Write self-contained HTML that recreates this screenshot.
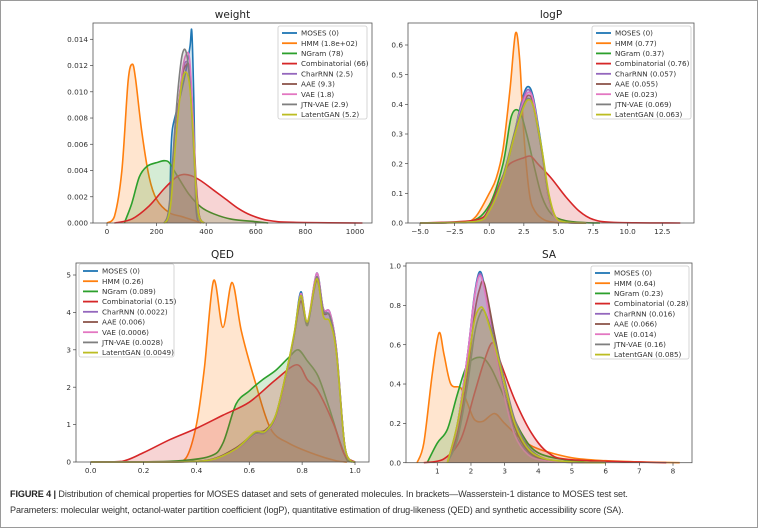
<!DOCTYPE html>
<html><head><meta charset="utf-8"><style>
body{margin:0;background:#fff;}
svg{display:block;font-family:"DejaVu Sans","Liberation Sans",sans-serif;}
.cap{position:absolute;left:10px;font-family:"Liberation Sans",sans-serif;font-size:9.6px;color:#333;white-space:nowrap;letter-spacing:-0.1px;transform:scaleX(0.945);transform-origin:0 0}
</style></head><body>
<div style="position:relative;width:758px;height:528px;overflow:hidden">
<svg id="fig" width="758" height="528" viewBox="0 0 758 528"></svg>
<div class="cap" style="top:489px"><b style="color:#222">FIGURE 4 |</b> Distribution of chemical properties for MOSES dataset and sets of generated molecules. In brackets—Wasserstein-1 distance to MOSES test set.</div>
<div class="cap" style="top:505px">Parameters: molecular weight, octanol-water partition coefficient (logP), quantitative estimation of drug-likeness (QED) and synthetic accessibility score (SA).</div>
</div>
<script>
const seriesNames = ["MOSES","HMM","NGram","Combinatorial","CharRNN","AAE","VAE","JTN-VAE","LatentGAN"];
const seriesColors = ["#1f77b4","#ff7f0e","#2ca02c","#d62728","#9467bd","#8c564b","#e377c2","#7f7f7f","#bcbd22"];

// ---- weight ----
const weightDist = ["0","1.8e+02","78","66","2.5","9.3","1.8","2.9","5.2"];
const weightTicksX = [0,200,400,600,800,1000];
const weightTicksY = [0,0.002,0.004,0.006,0.008,0.010,0.012,0.014];
const weightNarrowX = [230,245,258,272,288,303,318,333,347,360,373,392];
const weightX_MOSES = [240,252,258,264,280,300,320,335,342,350,358,370];
const weightY_MOSES = [0,0.001,0.0055,0.0072,0.0085,0.0100,0.0118,0.0135,0.0146,0.0095,0.0015,0];
const weightX_HMM = [0,30,60,85,102,115,140,170,200,250,300,350,380];
const weightY_HMM = [0,0.0005,0.004,0.0108,0.0121,0.011,0.007,0.0035,0.0018,0.0008,0.0005,0.0002,0];
const weightX_NGram = [70,100,130,160,200,245,280,330,380,430,500,600,650];
const weightY_NGram = [0,0.0015,0.0035,0.0043,0.0046,0.0047,0.0037,0.0022,0.0012,0.0007,0.0003,0.0001,0];
const weightX_Comb = [30,100,170,230,280,310,340,380,430,480,530,580,650,750,1030];
const weightY_Comb = [0,0.0003,0.0013,0.0026,0.0035,0.0037,0.0036,0.0032,0.0025,0.0018,0.0011,0.0006,0.0002,0.00005,0];
const weightY_CharRNN = [0,0.0004,0.002,0.0055,0.0088,0.0112,0.0123,0.0115,0.0075,0.0025,0.0004,0];
const weightY_AAE = [0,0.0005,0.0022,0.0058,0.009,0.0112,0.012,0.0118,0.008,0.003,0.0005,0];
const weightY_VAE = [0,0.0004,0.002,0.0055,0.0088,0.0115,0.0128,0.0125,0.008,0.0025,0.0004,0];
const weightY_JTN = [0,0.0006,0.0028,0.0068,0.0105,0.0128,0.0131,0.011,0.0065,0.002,0.0003,0];
const weightY_LatentGAN = [0,0.0003,0.0016,0.005,0.0085,0.0108,0.0115,0.0105,0.007,0.0022,0.0004,0];

// ---- logP ----
const logpDist = ["0","0.77","0.37","0.76","0.057","0.055","0.023","0.069","0.063"];
const logpTicksX = [-5,-2.5,0,2.5,5,7.5,10,12.5];
const logpTicksY = [0,0.1,0.2,0.3,0.4,0.5,0.6];
const logpBellX = [-5,-1,0,1,1.8,2.4,2.8,3.2,3.8,4.3,4.8,5.5,7];
const logpY_MOSES = [0,0.005,0.04,0.15,0.30,0.42,0.46,0.42,0.25,0.08,0.015,0.002,0];
const logpX_HMM = [-5,-2,-1,0,0.5,1.0,1.5,1.9,2.2,2.5,2.9,3.3,4,5];
const logpY_HMM = [0,0.002,0.02,0.10,0.15,0.25,0.45,0.64,0.55,0.30,0.10,0.04,0.01,0];
const logpX_NGram = [-5,-1.5,0,1,1.6,2.2,2.7,3.2,3.8,4.5,5.5,7,8];
const logpY_NGram = [0,0.003,0.06,0.20,0.36,0.375,0.30,0.20,0.09,0.03,0.008,0.001,0];
const logpX_Comb = [-5,-1,0,1,1.5,2.5,3,3.5,4.5,5.5,6.5,7.5,9,13.8];
const logpY_Comb = [0,0.01,0.05,0.16,0.20,0.22,0.225,0.20,0.15,0.09,0.04,0.012,0.002,0];
const logpY_CharRNN = [0,0.005,0.04,0.15,0.30,0.41,0.45,0.41,0.24,0.08,0.015,0.002,0];
const logpY_AAE = [0,0.005,0.04,0.15,0.29,0.39,0.43,0.40,0.24,0.08,0.015,0.002,0];
const logpY_VAE = [0,0.005,0.04,0.15,0.30,0.40,0.44,0.41,0.24,0.08,0.015,0.002,0];
const logpY_JTN = [0,0.005,0.045,0.16,0.30,0.39,0.42,0.39,0.24,0.09,0.02,0.003,0];
const logpY_LatentGAN = [0,0.005,0.04,0.15,0.29,0.38,0.415,0.39,0.25,0.10,0.02,0.003,0];

// ---- QED ----
const qedDist = ["0","0.26","0.089","0.15","0.0022","0.006","0.0006","0.0028","0.0049"];
const qedTicksX = [0,0.2,0.4,0.6,0.8,1.0];
const qedTicksY = [0,1,2,3,4,5];
const qedMainX = [0.0,0.3,0.45,0.55,0.62,0.66,0.70,0.74,0.77,0.795,0.82,0.855,0.88,0.905,0.93,0.96,0.985,1.0];
const qedY_MOSES = [0,0,0.05,0.35,0.75,0.80,1.15,2.3,3.4,4.55,3.7,5.05,4.1,4.0,3.0,0.5,0.02,0];
const qedY_CharRNN = [0,0,0.05,0.33,0.72,0.78,1.15,2.3,3.4,4.4,3.7,4.95,4.1,3.9,3.0,0.5,0.02,0];
const qedY_AAE = [0,0,0.06,0.38,0.78,0.85,1.25,2.4,3.4,4.3,3.7,4.85,4.0,3.9,2.9,0.5,0.02,0];
const qedY_VAE = [0,0,0.05,0.34,0.73,0.80,1.15,2.3,3.4,4.5,3.75,5.05,4.1,4.0,3.0,0.5,0.02,0];
const qedY_JTN = [0,0,0.05,0.35,0.75,0.80,1.2,2.35,3.4,4.45,3.65,4.95,4.05,3.9,2.95,0.5,0.02,0];
const qedY_LatentGAN = [0,0,0.05,0.35,0.80,0.82,1.25,2.4,3.45,4.45,3.75,4.9,3.9,3.75,2.9,0.5,0.02,0];
const qedX_HMM = [0.0,0.3,0.36,0.40,0.43,0.465,0.50,0.535,0.57,0.62,0.68,0.75,0.85,0.93,0.97];
const qedY_HMM = [0,0,0.1,1.0,2.5,4.85,3.6,4.8,3.5,2.2,0.9,0.5,0.2,0.03,0];
const qedX_NGram = [0.0,0.3,0.45,0.5,0.55,0.6,0.65,0.7,0.75,0.785,0.82,0.86,0.9,0.94,0.97,0.99];
const qedY_NGram = [0,0.02,0.15,0.5,1.55,1.9,2.2,2.45,2.8,3.0,2.7,2.3,1.5,0.6,0.05,0];
const qedX_Comb = [0.02,0.12,0.2,0.3,0.4,0.5,0.6,0.7,0.78,0.82,0.86,0.92,0.96,1.0];
const qedY_Comb = [0,0.02,0.25,0.6,0.9,1.25,1.6,2.2,2.6,2.2,1.9,1.0,0.2,0];

// ---- SA ----
const saDist = ["0","0.64","0.23","0.28","0.016","0.066","0.014","0.16","0.085"];
const saTicksX = [1,2,3,4,5,6,7,8];
const saTicksY = [0,0.2,0.4,0.6,0.8,1.0];
const saBellX = [1.3,1.6,1.9,2.1,2.25,2.4,2.7,3.0,3.3,3.7,4.2,5,6];
const saY_MOSES = [0,0.2,0.55,0.85,0.97,0.90,0.60,0.35,0.15,0.05,0.01,0.002,0];
const saY_CharRNN = [0,0.2,0.55,0.84,0.96,0.89,0.60,0.35,0.15,0.05,0.01,0.002,0];
const saY_AAE = [0,0.15,0.45,0.75,0.88,0.91,0.65,0.40,0.18,0.06,0.015,0.003,0];
const saY_VAE = [0,0.2,0.55,0.84,0.95,0.88,0.58,0.33,0.14,0.04,0.01,0.002,0];
const saY_JTN = [0,0.12,0.40,0.65,0.75,0.77,0.62,0.42,0.22,0.08,0.02,0.004,0];
const saY_LatentGAN = [0,0.2,0.5,0.72,0.785,0.77,0.60,0.40,0.20,0.07,0.02,0.004,0];
const saX_HMM = [0.4,0.6,0.85,1.05,1.2,1.4,1.7,1.9,2.1,2.35,2.7,3.0,3.5,4.0,5,6,7,8.2];
const saY_HMM = [0,0.1,0.45,0.66,0.55,0.40,0.38,0.30,0.22,0.21,0.25,0.20,0.12,0.07,0.025,0.01,0.004,0];
const saX_NGram = [0.7,1.0,1.3,1.6,1.9,2.3,2.6,3.0,3.5,4,5,6];
const saY_NGram = [0,0.1,0.17,0.35,0.50,0.535,0.48,0.33,0.15,0.05,0.01,0];
const saX_Comb = [0.6,1.2,1.7,2.1,2.4,2.65,2.9,3.3,3.8,4.3,5,7.8];
const saY_Comb = [0,0.02,0.12,0.35,0.52,0.61,0.50,0.32,0.15,0.05,0.015,0];

const NS="http://www.w3.org/2000/svg";
const svg=document.getElementById('fig');
function mk(tag,attrs,parent){const e=document.createElementNS(NS,tag);for(const k in attrs)e.setAttribute(k,attrs[k]);(parent||svg).appendChild(e);return e;}

const frame=mk('rect',{x:0.5,y:0.5,width:757,height:527,fill:'none',stroke:'#9a9a9a','stroke-width':1});



function smoothPath(pts){
  let d='M'+pts[0][0].toFixed(2)+','+pts[0][1].toFixed(2);
  for(let i=0;i<pts.length-1;i++){
    const p0=pts[Math.max(0,i-1)],p1=pts[i],p2=pts[i+1],p3=pts[Math.min(pts.length-1,i+2)];
    const t=0.16;
    let c1x=p1[0]+(p2[0]-p0[0])*t,c1y=p1[1]+(p2[1]-p0[1])*t;
    let c2x=p2[0]-(p3[0]-p1[0])*t,c2y=p2[1]-(p3[1]-p1[1])*t;
    c1y=Math.min(c1y,pts.base);c2y=Math.min(c2y,pts.base);
    d+=' C'+c1x.toFixed(2)+','+c1y.toFixed(2)+' '+c2x.toFixed(2)+','+c2y.toFixed(2)+' '+p2[0].toFixed(2)+','+p2[1].toFixed(2);
  }
  return d;
}

function panel(cfg){
  const g=mk('g',{});
  
  
  const sx=v=>cfg.px0+(v-cfg.x0)*(cfg.px1-cfg.px0)/(cfg.x1-cfg.x0);
  const sy=v=>cfg.py0-(v)*(cfg.py0-cfg.py1)/(cfg.y1);
  const t=mk('text',{x:(cfg.L+cfg.R)/2,y:cfg.T-5,'text-anchor':'middle','font-size':10.5,fill:'#222'},g);
  t.textContent=cfg.title;
  
  
  const sg=mk('g',{},g);
  
  
  cfg.series.forEach((s,i)=>{
    const pts=s.x.map((xv,j)=>[sx(xv),sy(s.y[j])]);
    pts.base=cfg.B;
    const d=smoothPath(pts);
    const f=mk('path',{d:d+' L'+pts[pts.length-1][0].toFixed(2)+','+cfg.B+' L'+pts[0][0].toFixed(2)+','+cfg.B+' Z',fill:seriesColors[i],'fill-opacity':0.2,stroke:'none'},sg);
    
    
    const l=mk('path',{d:d,fill:'none',stroke:seriesColors[i],'stroke-width':1.6,'stroke-linejoin':'round'},sg);
    
    
  });
  const ax=mk('rect',{x:cfg.L,y:cfg.T,width:cfg.R-cfg.L,height:cfg.B-cfg.T,fill:'none',stroke:'#555','stroke-width':0.8},g);
  
  
  cfg.tx.forEach(v=>{
    const x=sx(v);
    mk('line',{x1:x,x2:x,y1:cfg.B,y2:cfg.B+3,stroke:'#444','stroke-width':0.7},g);
    const tt=mk('text',{x:x,y:cfg.B+11,'text-anchor':'middle','font-size':7.3,fill:'#333'},g);
    tt.textContent=cfg.fx(v);
    
    
  });
  cfg.ty.forEach(v=>{
    const y=sy(v);
    mk('line',{x1:cfg.L-3,x2:cfg.L,y1:y,y2:y,stroke:'#444','stroke-width':0.7},g);
    const tt=mk('text',{x:cfg.L-5,y:y+2.6,'text-anchor':'end','font-size':7.3,fill:'#333'},g);
    tt.textContent=cfg.fy(v);
    
    
  });
  const lg=mk('g',{},g);
  
  
  mk('rect',{x:cfg.lx,y:cfg.ly,width:cfg.lw,height:93,fill:'#fff','fill-opacity':0.85,stroke:'#ccc','stroke-width':0.8,rx:2},lg);
  seriesNames.forEach((n,i)=>{
    const y=cfg.ly+7+i*10.2;
    const e=mk('g',{},lg);
    
    
    mk('line',{x1:cfg.lx+4,x2:cfg.lx+19,y1:y,y2:y,stroke:seriesColors[i],'stroke-width':1.8},e);
    const tt=mk('text',{x:cfg.lx+23,y:y+2.6,'font-size':7.2,fill:'#333'},e);
    tt.textContent=n+' ('+cfg.dist[i]+')';
  });
}
const fix=(n)=>v=>v.toFixed(n);
const minus=(n)=>v=>v.toFixed(n).replace('-','\u2212');

panel({name:'weight',title:'weight',L:93,R:372,T:23,B:223,x0:0,x1:1000,px0:107,px1:355,py0:223,py1:39.3,y1:0.014,
  tx:weightTicksX,ty:weightTicksY,fx:v=>String(v),fy:fix(3),lx:278,ly:26,lw:89,dist:weightDist,
  series:[{x:weightX_MOSES,y:weightY_MOSES},{x:weightX_HMM,y:weightY_HMM},{x:weightX_NGram,y:weightY_NGram},{x:weightX_Comb,y:weightY_Comb},
  {x:weightNarrowX,y:weightY_CharRNN},{x:weightNarrowX,y:weightY_AAE},{x:weightNarrowX,y:weightY_VAE},{x:weightNarrowX,y:weightY_JTN},{x:weightNarrowX,y:weightY_LatentGAN}]});

panel({name:'logp',title:'logP',L:408,R:694,T:23,B:223,x0:-5,x1:12.5,px0:420,px1:662.3,py0:223,py1:45,y1:0.6,
  tx:logpTicksX,ty:logpTicksY,fx:minus(1),fy:fix(1),lx:592,ly:26,lw:99,dist:logpDist,
  series:[{x:logpBellX,y:logpY_MOSES},{x:logpX_HMM,y:logpY_HMM},{x:logpX_NGram,y:logpY_NGram},{x:logpX_Comb,y:logpY_Comb},
  {x:logpBellX,y:logpY_CharRNN},{x:logpBellX,y:logpY_AAE},{x:logpBellX,y:logpY_VAE},{x:logpBellX,y:logpY_JTN},{x:logpBellX,y:logpY_LatentGAN}]});

panel({name:'qed',title:'QED',L:76,R:369,T:263,B:462,x0:0,x1:1,px0:90.7,px1:355,py0:462,py1:275,y1:5,
  tx:qedTicksX,ty:qedTicksY,fx:fix(1),fy:v=>String(v),lx:79,ly:264,lw:95,dist:qedDist,
  series:[{x:qedMainX,y:qedY_MOSES},{x:qedX_HMM,y:qedY_HMM},{x:qedX_NGram,y:qedY_NGram},{x:qedX_Comb,y:qedY_Comb},
  {x:qedMainX,y:qedY_CharRNN},{x:qedMainX,y:qedY_AAE},{x:qedMainX,y:qedY_VAE},{x:qedMainX,y:qedY_JTN},{x:qedMainX,y:qedY_LatentGAN}]});

panel({name:'sa',title:'SA',L:406,R:692,T:263,B:462.7,x0:1,x1:8,px0:437.3,px1:673,py0:462.7,py1:266,y1:1.0,
  tx:saTicksX,ty:saTicksY,fx:v=>String(v),fy:fix(1),lx:591,ly:266,lw:98,dist:saDist,
  series:[{x:saBellX,y:saY_MOSES},{x:saX_HMM,y:saY_HMM},{x:saX_NGram,y:saY_NGram},{x:saX_Comb,y:saY_Comb},
  {x:saBellX,y:saY_CharRNN},{x:saBellX,y:saY_AAE},{x:saBellX,y:saY_VAE},{x:saBellX,y:saY_JTN},{x:saBellX,y:saY_LatentGAN}]});
</script>
</body></html>
